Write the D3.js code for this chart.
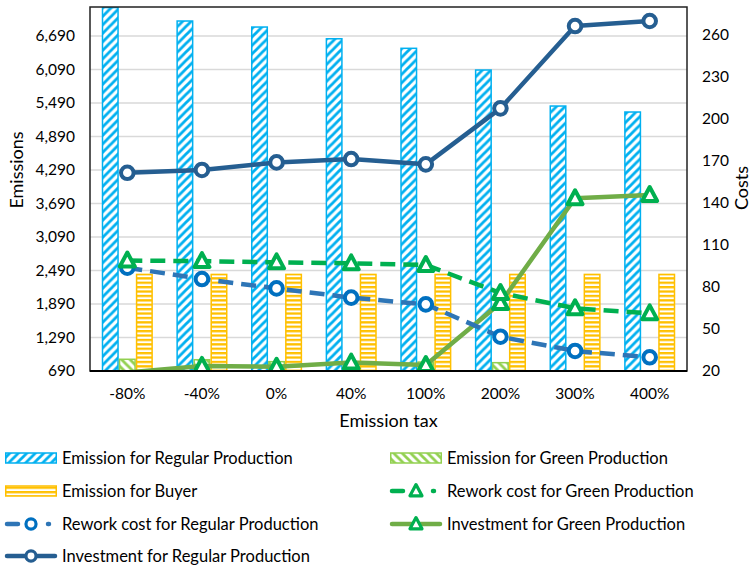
<!DOCTYPE html>
<html>
<head>
<meta charset="utf-8">
<script src="https://cdn.jsdelivr.net/npm/d3@7"></script>
<style>
  html, body { margin: 0; padding: 0; background: #fff; }
  svg { display: block; font-family: Lato, "Open Sans", sans-serif; }
</style>
</head>
<body>
<svg id="chart" width="752" height="568"></svg>
<script>
// Emission tax scenarios
const categories = ["-80%", "-40%", "0%", "40%", "100%", "200%", "300%", "400%"];

// Emissions (left axis)
const emissionRegular = [7200, 6959, 6851, 6641, 6470, 6081, 5436, 5329];
const emissionGreen   = [900, 892, 857, 850, 850, 839, 690, 690];
const emissionBuyer   = [2420, 2420, 2420, 2420, 2420, 2420, 2420, 2420];

// Costs (right axis)
const reworkGreen       = [98.9, 98.5, 97.6, 96.9, 95.7, 75.7, 64.8, 61.2];
const reworkRegular     = [93.8, 85.7, 79.0, 72.4, 67.6, 44.5, 34.3, 29.8];
const investmentGreen   = [19, 23.6, 23.0, 26.0, 24.3, 68.6, 143.4, 145.7];
const investmentRegular = [161.6, 163.6, 169.0, 171.4, 167.6, 207.6, 266.4, 270.0];

// Axis ticks
const leftTicks  = [690, 1290, 1890, 2490, 3090, 3690, 4290, 4890, 5490, 6090, 6690];
const rightTicks = [20, 50, 80, 110, 140, 170, 200, 230, 260];
const leftDomain = [690, 7210];
const rightDomain = [20, 280];

const svg = d3.select("#chart");
const plot = { left: 90, right: 687, top: 7, bottom: 371 };

const x = d3.scaleBand().domain(categories).range([plot.left, plot.right]);
const barKeys = ["regular", "green", "buyer"];
const x1 = d3.scaleBand().domain(barKeys).range([0, x.bandwidth()])
  .paddingInner(0).paddingOuter(0.69);
const yL = d3.scaleLinear().domain(leftDomain).range([plot.bottom, plot.top]);
const yR = d3.scaleLinear().domain(rightDomain).range([plot.bottom, plot.top]);

// Fill patterns
const defs = svg.append("defs");
function diagPattern(id, color, dir) {
  const s = 8.5;
  const p = defs.append("pattern").attr("id", id)
    .attr("patternUnits", "userSpaceOnUse").attr("width", s).attr("height", s);
  p.append("rect").attr("width", s).attr("height", s).attr("fill", "#fff");
  const d = dir > 0
    ? `M${-s/2},${s/2} L${s/2},${-s/2} M0,${s} L${s},0 M${s/2},${s*1.5} L${s*1.5},${s/2}`
    : `M${-s/2},${s/2} L${s/2},${s*1.5} M0,0 L${s},${s} M${s/2},${-s/2} L${s*1.5},${s/2}`;
  p.append("path").attr("d", d).attr("stroke", color).attr("stroke-width", 2.8);
}
diagPattern("hatchBlue", "#00B0F0", 1);
diagPattern("hatchGreen", "#92D050", -1);
const hp = defs.append("pattern").attr("id", "hatchYellow")
  .attr("patternUnits", "userSpaceOnUse").attr("width", 6).attr("height", 4.4);
hp.append("rect").attr("width", 6).attr("height", 4.4).attr("fill", "#fff");
hp.append("rect").attr("y", 0).attr("width", 6).attr("height", 2.3).attr("fill", "#FFC000");

defs.append("clipPath").attr("id", "plotClip").append("rect")
  .attr("x", plot.left).attr("y", plot.top)
  .attr("width", plot.right - plot.left).attr("height", plot.bottom - plot.top);

// Gridlines
svg.append("g").selectAll("line").data(leftTicks.slice(1)).join("line")
  .attr("x1", plot.left).attr("x2", plot.right)
  .attr("y1", d => yL(d)).attr("y2", d => yL(d))
  .attr("stroke", "#D9D9D9").attr("stroke-width", 1.5);

// Bars
const barSeries = [
  { key: "regular", values: emissionRegular, fill: "url(#hatchBlue)", stroke: "#00B0F0" },
  { key: "green", values: emissionGreen, fill: "url(#hatchGreen)", stroke: "#92D050" },
  { key: "buyer", values: emissionBuyer, fill: "url(#hatchYellow)", stroke: "#FFC000" }
];
const barG = svg.append("g").attr("clip-path", "url(#plotClip)");
barSeries.forEach(s => {
  barG.append("g").selectAll("rect").data(categories).join("rect")
    .attr("x", (c) => x(c) + x1(s.key) + 0.75)
    .attr("width", x1.bandwidth() - 1.5)
    .attr("y", (c, i) => yL(s.values[i]))
    .attr("height", (c, i) => Math.max(0, plot.bottom - yL(s.values[i])))
    .attr("fill", s.fill).attr("stroke", s.stroke).attr("stroke-width", 1.5);
});

// Lines
const lineSeries = [
  { name: "investmentGreen", values: investmentGreen, color: "#70AD47", marker: "tri", markerColor: "#00B050", dash: null },
  { name: "reworkRegular", values: reworkRegular, color: "#2E75B6", marker: "circle", markerColor: "#0070C0", dash: "15,8" },
  { name: "reworkGreen", values: reworkGreen, color: "#00B050", marker: "tri", markerColor: "#00B050", dash: "15,8" },
  { name: "investmentRegular", values: investmentRegular, color: "#255E91", marker: "circle", markerColor: "#255E91", dash: null }
];
const cx = c => x(c) + x.bandwidth() / 2;
const triPath = "M0,-8 L7.5,6 L-7.5,6 Z";

function drawMarker(g, type, color, scale) {
  const k = scale || 1;
  if (type === "circle") {
    g.append("circle").attr("r", 6.3 * k).attr("fill", "#fff")
      .attr("stroke", color).attr("stroke-width", 4 * k);
  } else {
    g.append("path").attr("d", triPath).attr("transform", `scale(${k})`).attr("fill", "#fff")
      .attr("stroke", color).attr("stroke-width", 4).attr("stroke-linejoin", "round");
  }
}

const lineG = svg.append("g").attr("clip-path", "url(#plotClip)");
lineSeries.forEach(s => {
  const line = d3.line().x((d, i) => cx(categories[i])).y(d => yR(d));
  lineG.append("path").datum(s.values).attr("d", line)
    .attr("fill", "none").attr("stroke", s.color).attr("stroke-width", 4.5)
    .attr("stroke-dasharray", s.dash).attr("stroke-linejoin", "round");
  s.values.forEach((v, i) => {
    if (v < rightDomain[0] || v > rightDomain[1]) return;
    const g = lineG.append("g").attr("transform", `translate(${cx(categories[i])},${yR(v)})`);
    drawMarker(g, s.marker, s.markerColor);
  });
});

// Plot frame
svg.append("rect").attr("x", plot.left).attr("y", plot.top)
  .attr("width", plot.right - plot.left).attr("height", plot.bottom - plot.top)
  .attr("fill", "none").attr("stroke", "#222").attr("stroke-width", 1.5);
svg.append("line").attr("x1", plot.left).attr("x2", plot.right)
  .attr("y1", plot.bottom).attr("y2", plot.bottom)
  .attr("stroke", "#000").attr("stroke-width", 2);

// Axes
const fmt = d3.format(",");
const axL = svg.append("g").attr("transform", `translate(${plot.left},0)`)
  .call(d3.axisLeft(yL).tickValues(leftTicks).tickFormat(fmt).tickSize(0).tickPadding(15));
const axR = svg.append("g").attr("transform", `translate(${plot.right},0)`)
  .call(d3.axisRight(yR).tickValues(rightTicks).tickSize(0).tickPadding(15));
const axB = svg.append("g").attr("transform", `translate(0,${plot.bottom})`)
  .call(d3.axisBottom(x).tickSize(0).tickPadding(17));
[axL, axR, axB].forEach(a => {
  a.select(".domain").remove();
  a.selectAll("text").attr("font-family", "Lato, sans-serif").attr("font-size", 15.5).attr("fill", "#000");
});

// Axis titles
svg.append("text").attr("transform", "translate(23,170) rotate(-90)")
  .attr("text-anchor", "middle").attr("font-size", 18).attr("fill", "#000").text("Emissions");
svg.append("text").attr("transform", "translate(748,188) rotate(-90)")
  .attr("text-anchor", "middle").attr("font-size", 18).attr("fill", "#000").text("Costs");
svg.append("text").attr("x", (plot.left + plot.right) / 2).attr("y", 427)
  .attr("text-anchor", "middle").attr("font-size", 18).attr("fill", "#000").text("Emission tax");

// Legend
const legendItems = [
  { label: "Emission for Regular Production", kind: "bar", fill: "url(#hatchBlue)", stroke: "#00B0F0", col: 0, row: 0 },
  { label: "Emission for Green Production", kind: "bar", fill: "url(#hatchGreen)", stroke: "#92D050", col: 1, row: 0 },
  { label: "Emission for Buyer", kind: "bar", fill: "url(#hatchYellow)", stroke: "#FFC000", col: 0, row: 1 },
  { label: "Rework cost for Green Production", kind: "line", s: lineSeries[2], col: 1, row: 1 },
  { label: "Rework cost for Regular Production", kind: "line", s: lineSeries[1], col: 0, row: 2 },
  { label: "Investment for Green Production", kind: "line", s: lineSeries[0], col: 1, row: 2 },
  { label: "Investment for Regular Production", kind: "line", s: lineSeries[3], col: 0, row: 3 }
];
const colX = [5, 390], rowY = [458, 491, 524, 556];
const sw = 52;
legendItems.forEach(it => {
  const g = svg.append("g").attr("transform", `translate(${colX[it.col]},${rowY[it.row]})`);
  if (it.kind === "bar") {
    g.append("rect").attr("x", 0.75).attr("y", -5).attr("width", sw - 1.5).attr("height", 10)
      .attr("fill", it.fill).attr("stroke", it.stroke).attr("stroke-width", 1.5);
  } else {
    g.append("line").attr("x1", 2).attr("x2", sw - 2).attr("y1", 0).attr("y2", 0)
      .attr("stroke", it.s.color).attr("stroke-width", 4.5)
      .attr("stroke-dasharray", it.s.dash ? "11,30,1,40" : null)
      .attr("stroke-linecap", "round");
    const m = g.append("g").attr("transform", `translate(${sw / 2},0)`);
    drawMarker(m, it.s.marker, it.s.markerColor, 0.8);
  }
  g.append("text").attr("x", sw + 5).attr("y", 5.5)
    .attr("font-size", 16.5).attr("fill", "#000").text(it.label);
});
</script>
</body>
</html>
